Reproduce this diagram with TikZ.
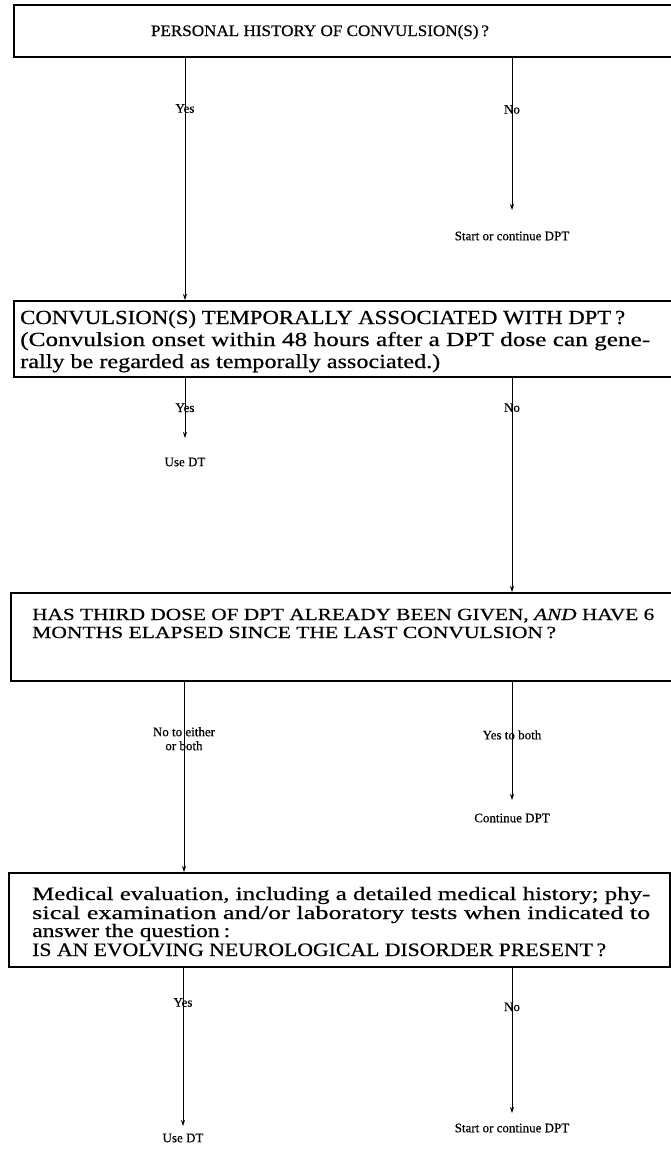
\documentclass[tikz,border=0pt]{standalone}
\usepackage{fontspec}
\setmainfont{Liberation Serif}[UprightFeatures={FakeBold=0.5},ItalicFeatures={FakeBold=0.5}]
\usepackage{graphicx}
\usetikzlibrary{arrows.meta}
\tikzset{
  box/.style={draw, line width=1.6pt, anchor=north west, inner sep=0pt},
  flow/.style={line width=0.8pt, -{Stealth[length=6pt,width=4pt]}},
  lab/.style={font=\fontsize{13}{14}\selectfont, inner sep=0pt, align=center},
  txt/.style={anchor=base west, inner sep=0pt},
}
\newcommand{\hsc}[2]{\resizebox{#1pt}{\height}{#2}}
\begin{document}
\begin{tikzpicture}[x=1pt,y=-1pt]
\useasboundingbox (0,0) rectangle (671,1149);
% columns
\coordinate (cl) at (185,0);
\coordinate (cr) at (512,0);
% boxes
\node[box, minimum width=670pt, minimum height=52pt] (b1) at (13,4) {};
\node[box, minimum width=670pt, minimum height=76pt] (b2) at (13,300) {};
\node[box, minimum width=670pt, minimum height=88pt] (b3) at (10,592) {};
\node[box, minimum width=661pt, minimum height=94pt] (b4) at (8,872) {};
% box texts
\node[anchor=base, inner sep=0pt, font=\fontsize{16}{16}\selectfont] (t1) at (320,36) {\hsc{338}{PERSONAL HISTORY OF CONVULSION(S)\,?}};
\begin{scope}[font=\fontsize{20}{20}\selectfont]
\node[txt] (t21) at (20,324) {\hsc{605}{CONVULSION(S) TEMPORALLY ASSOCIATED WITH DPT\,?}};
\node[txt] (t22) at (20,346) {\hsc{630}{(Convulsion onset within 48 hours after a DPT dose can gene-}};
\node[txt] (t23) at (20,368) {\hsc{420}{rally be regarded as temporally associated.)}};
\end{scope}
\begin{scope}[font=\fontsize{17}{17}\selectfont]
\node[txt] (t31) at (32,620) {\hsc{622}{HAS THIRD DOSE OF DPT ALREADY BEEN GIVEN, \textit{AND} HAVE 6}};
\node[txt] (t32) at (32,638) {\hsc{524}{MONTHS ELAPSED SINCE THE LAST CONVULSION\,?}};
\end{scope}
\begin{scope}[font=\fontsize{19}{19}\selectfont]
\node[txt] (t41) at (32,900) {\hsc{618}{Medical evaluation, including a detailed medical history; phy-}};
\node[txt] (t42) at (32,919) {\hsc{618}{sical examination and/or laboratory tests when indicated to}};
\node[txt] (t43) at (32,937) {\hsc{198}{answer the question\,:}};
\node[txt] (t44) at (32,956) {\hsc{574}{IS AN EVOLVING NEUROLOGICAL DISORDER PRESENT\,?}};
\end{scope}
% end nodes
\node[lab] (s1) at (512,236) {Start or continue DPT};
\node[lab] (u1) at (185,462) {Use DT};
\node[lab] (c3) at (512,818) {Continue DPT};
\node[lab] (u2) at (183,1138) {Use DT};
\node[lab] (s2) at (512,1128) {Start or continue DPT};
\coordinate (e1) at (512,210);
\coordinate (e2) at (185,438);
\coordinate (e3) at (512,800);
\coordinate (e4) at (183,1126);
\coordinate (e5) at (512,1113);
% connectors with labels
\draw[flow] (b1.south -| cl) -- node[lab, pos=0.21] {Yes} (b2.north -| cl);
\draw[flow] (b1.south -| cr) -- node[lab, pos=0.34] {No} (e1);
\draw[flow] (b2.south -| cl) -- node[lab, pos=0.5] {Yes} (e2);
\draw[flow] (b2.south -| cr) -- node[lab, pos=0.14] {No} (b3.north -| cr);
\draw[flow] (b3.south -| 184,0) -- node[lab, pos=0.3] {No to either\\or both} (b4.north -| 184,0);
\draw[flow] (b3.south -| cr) -- node[lab, pos=0.45] {Yes to both} (e3);
\draw[flow] (b4.south -| e4) -- node[lab, pos=0.22] {Yes} (e4);
\draw[flow] (b4.south -| cr) -- node[lab, pos=0.27] {No} (e5);
\end{tikzpicture}
\end{document}
